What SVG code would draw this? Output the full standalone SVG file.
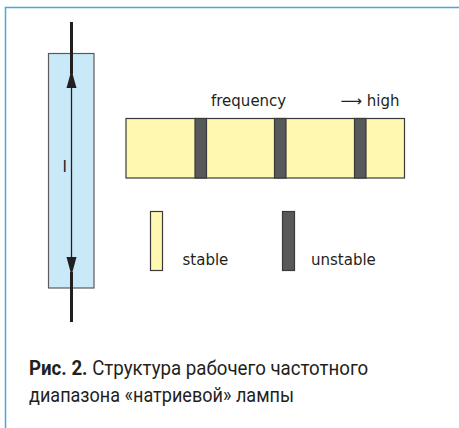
<svg xmlns="http://www.w3.org/2000/svg" width="459" height="428" viewBox="0 0 459 428">
<style>
.lbl{font-family:"DejaVu Sans",sans-serif;font-size:15px;fill:#231f20}
.cap{font-family:Roboto,"Liberation Sans",sans-serif;font-size:21px;fill:#231f20}
.stable{fill:#fff8b0;stroke:#3a3a3a;stroke-width:1.2}
.unstable{fill:#58595b;stroke:#3a3a3a;stroke-width:1.2}
</style>
<rect width="459" height="428" fill="#ffffff"/>
<g id="frame">
<path d="M5.5,428 V7.5 H459" fill="none" stroke="#45a8e0" stroke-width="1.5"/>
</g>
<g id="lamp">
<rect x="48.5" y="53.5" width="45.5" height="234.5" fill="#c9e9f8" stroke="#5a5a5a" stroke-width="1.2"/>
<text class="lbl" x="64.8" y="172" font-size="17" text-anchor="middle">I</text>
</g>
<g id="connectors">
<line x1="71.5" y1="22" x2="71.5" y2="74" stroke="#231f20" stroke-width="3"/>
<line x1="71.5" y1="74" x2="71.5" y2="270" stroke="#231f20" stroke-width="1.3"/>
<line x1="71.5" y1="272" x2="71.5" y2="322" stroke="#231f20" stroke-width="3"/>
<polygon points="71.5,70 66.5,88 76.5,88" fill="#231f20"/>
<polygon points="71.5,275.5 66.5,257 76.5,257" fill="#231f20"/>
</g>
<g id="spectrum">
<rect x="126" y="118.5" width="278.5" height="59.5" class="stable"/>
<rect x="195" y="118.5" width="11.5" height="59.5" class="unstable"/>
<rect x="274.5" y="118.5" width="11.5" height="59.5" class="unstable"/>
<rect x="354.5" y="118.5" width="11.5" height="59.5" class="unstable"/>
<text class="lbl" x="211" y="106">frequency</text>
<text class="lbl" x="340.5" y="106">⟶ high</text>
</g>
<g id="legend-stable">
<rect x="150.5" y="211.5" width="12" height="59" class="stable"/>
<text class="lbl" x="182.5" y="264.5">stable</text>
</g>
<g id="legend-unstable">
<rect x="282.5" y="211.5" width="12" height="59" class="unstable"/>
<text class="lbl" x="311" y="264.5">unstable</text>
</g>
<g id="caption">
<text class="cap" x="0" y="375" transform="matrix(0.89,0,0,1,29,0)"><tspan font-weight="bold">Рис. 2.</tspan> Структура рабочего частотного</text>
<text class="cap" x="0" y="402" transform="matrix(0.86,0,0,1,29,0)">диапазона «натриевой» лампы</text>
</g>
</svg>
